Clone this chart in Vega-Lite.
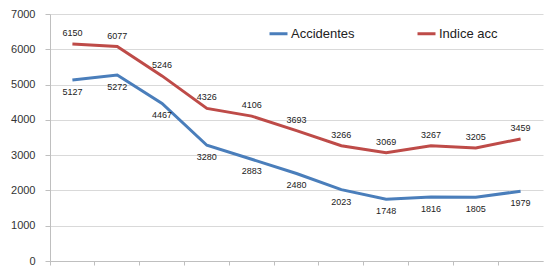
{
  "$schema": "https://vega.github.io/schema/vega-lite/v6.json",
  "width": 493,
  "height": 247,
  "autosize": "none",
  "padding": {"left": 50, "top": 14, "right": 5, "bottom": 8},
  "background": "white",
  "config": {"view": {"stroke": null}, "font": "Liberation Sans"},
  "data": {
    "values": [
      {"periodo": "1", "serie": "Accidentes", "valor": 5127},
      {"periodo": "2", "serie": "Accidentes", "valor": 5272},
      {"periodo": "3", "serie": "Accidentes", "valor": 4467},
      {"periodo": "4", "serie": "Accidentes", "valor": 3280},
      {"periodo": "5", "serie": "Accidentes", "valor": 2883},
      {"periodo": "6", "serie": "Accidentes", "valor": 2480},
      {"periodo": "7", "serie": "Accidentes", "valor": 2023},
      {"periodo": "8", "serie": "Accidentes", "valor": 1748},
      {"periodo": "9", "serie": "Accidentes", "valor": 1816},
      {"periodo": "10", "serie": "Accidentes", "valor": 1805},
      {"periodo": "11", "serie": "Accidentes", "valor": 1979},
      {"periodo": "1", "serie": "Indice acc", "valor": 6150},
      {"periodo": "2", "serie": "Indice acc", "valor": 6077},
      {"periodo": "3", "serie": "Indice acc", "valor": 5246},
      {"periodo": "4", "serie": "Indice acc", "valor": 4326},
      {"periodo": "5", "serie": "Indice acc", "valor": 4106},
      {"periodo": "6", "serie": "Indice acc", "valor": 3693},
      {"periodo": "7", "serie": "Indice acc", "valor": 3266},
      {"periodo": "8", "serie": "Indice acc", "valor": 3069},
      {"periodo": "9", "serie": "Indice acc", "valor": 3267},
      {"periodo": "10", "serie": "Indice acc", "valor": 3205},
      {"periodo": "11", "serie": "Indice acc", "valor": 3459}
    ]
  },
  "encoding": {
    "x": {
      "field": "periodo",
      "type": "ordinal",
      "sort": null,
      "bandPosition": 0.5,
      "scale": {"type": "band", "paddingInner": 0, "paddingOuter": 0},
      "axis": {
        "title": null,
        "labels": false,
        "bandPosition": 0,
        "ticks": true,
        "tickSize": 4,
        "grid": false,
        "domainColor": "#bfbfbf",
        "tickColor": "#bfbfbf"
      }
    },
    "y": {
      "field": "valor",
      "type": "quantitative",
      "scale": {"domain": [0, 7000]},
      "axis": {
        "title": null,
        "format": "d",
        "values": [0, 1000, 2000, 3000, 4000, 5000, 6000, 7000],
        "tickSize": 5,
        "labelPadding": 10,
        "labelFontSize": 11,
        "labelColor": "#333333",
        "gridColor": "#d9d9d9",
        "domainColor": "#bfbfbf",
        "tickColor": "#bfbfbf"
      }
    }
  },
  "layer": [
    {
      "mark": {"type": "line", "strokeWidth": 3},
      "encoding": {
        "color": {
          "field": "serie",
          "type": "nominal",
          "scale": {"domain": ["Accidentes", "Indice acc"], "range": ["#4a7ebb", "#be4b48"]},
          "legend": {
            "title": null,
            "orient": "none",
            "direction": "horizontal",
            "legendX": 218,
            "legendY": 9,
            "symbolType": "stroke",
            "symbolSize": 324,
            "symbolStrokeWidth": 3,
            "labelFontSize": 13,
            "labelColor": "#222222",
            "labelOffset": 2,
            "columnPadding": 56
          }
        }
      }
    },
    {
      "transform": [{"filter": "datum.serie === 'Accidentes'"}],
      "mark": {"type": "text", "fontSize": 9, "color": "#222222", "dy": 12},
      "encoding": {"text": {"field": "valor", "type": "quantitative", "format": "d"}}
    },
    {
      "transform": [{"filter": "datum.serie === 'Indice acc'"}],
      "mark": {"type": "text", "fontSize": 9, "color": "#222222", "dy": -11},
      "encoding": {"text": {"field": "valor", "type": "quantitative", "format": "d"}}
    }
  ]
}
